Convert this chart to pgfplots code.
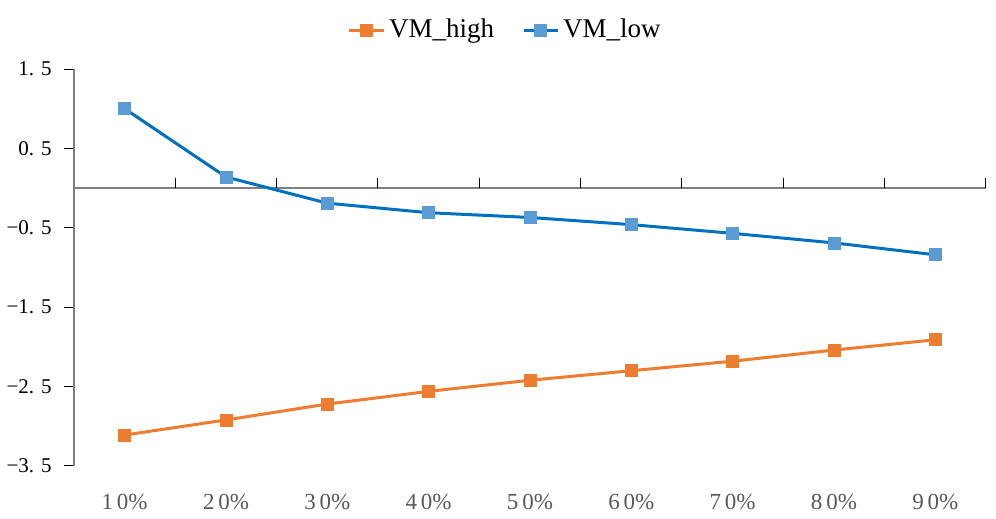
\documentclass[border=0pt]{standalone}
\usepackage{fontspec}
\setmainfont{Liberation Serif}
\usepackage{pgfplots}
\pgfplotsset{compat=1.18}
\definecolor{vmhigh}{HTML}{ED7D31}
\definecolor{vmlow}{HTML}{0070C0}
\definecolor{vmlowmk}{HTML}{5B9BD5}
\definecolor{axgray}{HTML}{808080}
\definecolor{lblgray}{HTML}{595959}

\begin{document}
\begin{tikzpicture}
\useasboundingbox (0,0) rectangle (498pt,259.5pt);
\begin{axis}[
    at={(37pt,26.5pt)}, anchor=south west,
    scale only axis,
    width=456pt, height=198.5pt,
    xmin=0.5, xmax=9.5,
    ymin=-3.5, ymax=1.5,
    axis lines=left,
    axis line style={axgray, line width=0.6pt, -},
    x axis line style={draw=none},
    ytick={-3.5,-2.5,-1.5,-0.5,0.5,1.5},
    yticklabels={−3. 5,−2. 5,−1. 5,−0. 5,0. 5,1. 5},
    yticklabel style={anchor=east, inner sep=0pt, xshift=-6pt,
        font=\fontsize{10.5}{12}\selectfont, text=black},
    y tick style={black, line width=0.5pt},
    tick align=outside,
    major tick length=5pt,
    xtick={1,...,9},
    xticklabels={1\,0\%,2\,0\%,3\,0\%,4\,0\%,5\,0\%,6\,0\%,7\,0\%,8\,0\%,9\,0\%},
    xticklabel style={anchor=center, inner sep=0pt, yshift=-13pt,
        font=\fontsize{11.5}{13}\selectfont, text=lblgray},
    x tick style={draw=none},
    /pgf/number format/assume math mode=true,
    legend style={
        at={(0.474,1.098)}, anchor=center,
        draw=none, fill=none,
        legend columns=2,
        font=\fontsize{13.5}{15}\selectfont,
        /tikz/every even column/.append style={column sep=12pt},
    },
    legend cell align=left,
    legend image post style={line width=1.5pt},
    clip=false,
]
% zero line with category separators
\draw[axgray, line width=0.8pt] (axis cs:0.5,0) -- (axis cs:9.5,0);
\pgfplotsinvokeforeach{1.5,2.5,3.5,4.5,5.5,6.5,7.5,8.5,9.5}{
    \draw[black, line width=0.5pt] (axis cs:#1,0) -- ([yshift=5pt]axis cs:#1,0);
}

\addplot[color=vmhigh, line width=1.5pt, mark=square*, mark size=3pt,
    mark options={fill=vmhigh, draw=vmhigh, line width=0.3pt}]
coordinates {
    (1,-3.11) (2,-2.92) (3,-2.72) (4,-2.56) (5,-2.42)
    (6,-2.30) (7,-2.18) (8,-2.04) (9,-1.91)
};
\addlegendentry{VM\_high}

\addplot[color=vmlow, line width=1.5pt, mark=square*, mark size=3pt,
    mark options={fill=vmlowmk, draw=vmlowmk, line width=0.3pt}]
coordinates {
    (1,1.00) (2,0.14) (3,-0.19) (4,-0.31) (5,-0.37)
    (6,-0.46) (7,-0.57) (8,-0.69) (9,-0.84)
};
\addlegendentry{VM\_low}
\end{axis}
\end{tikzpicture}
\end{document}
